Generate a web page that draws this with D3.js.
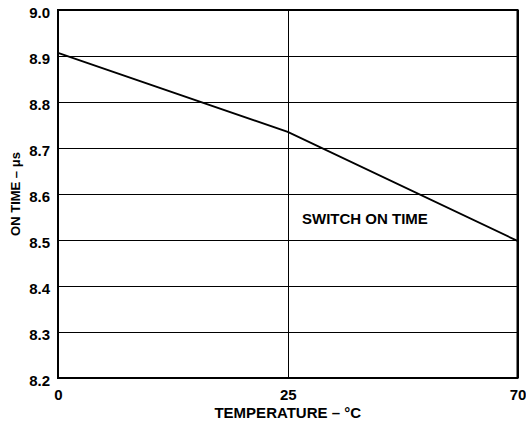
<!DOCTYPE html>
<html>
<head>
<meta charset="utf-8">
<script src="https://cdn.jsdelivr.net/npm/d3@7/dist/d3.min.js"></script>
<style>
  body { margin: 0; background: #fff; }
  text { font-family: "Liberation Sans", Arial, sans-serif; font-weight: bold; fill: #000; }
</style>
</head>
<body>
<script>
var width = 526;
var height = 427;
var margin = {top: 10, right: 8.5, bottom: 49, left: 58};

// data
var temps = [0, 25, 70];
var onTime = [8.907, 8.735, 8.498];
var yTicks = [8.2, 8.3, 8.4, 8.5, 8.6, 8.7, 8.8, 8.9, 9.0];

var w = width - margin.left - margin.right;
var h = height - margin.top - margin.bottom;

var svg = d3.select("body")
  .append("svg")
  .attr("width", width)
  .attr("height", height);

var g = svg.append("g")
  .attr("transform", "translate(" + margin.left + "," + margin.top + ")");

// x axis is not linear in the original: ticks are evenly spaced
var x = d3.scalePoint().domain(temps).range([0, w]).padding(0);
var y = d3.scaleLinear().domain([8.2, 9.0]).range([h, 0]);

var yAxis = g.append("g")
  .call(d3.axisLeft(y).tickValues(yTicks).tickSize(-w).tickPadding(8).tickFormat(d3.format(".1f")));
yAxis.select(".domain").remove();
yAxis.selectAll("line").attr("stroke", "#000").attr("stroke-width", 1).attr("shape-rendering", "crispEdges");
yAxis.selectAll("text").attr("font-size", 15).attr("dy", "0.5em");

var xAxis = g.append("g")
  .attr("transform", "translate(0," + h + ")")
  .call(d3.axisBottom(x).tickSize(-h).tickPadding(11));
xAxis.select(".domain").remove();
xAxis.selectAll("line").attr("stroke", "#000").attr("stroke-width", 1).attr("shape-rendering", "crispEdges");
xAxis.selectAll("text").attr("font-size", 15);

// frame
g.append("rect")
  .attr("x", 0).attr("y", 0)
  .attr("width", w).attr("height", h)
  .attr("fill", "none")
  .attr("stroke", "#000")
  .attr("stroke-width", 2);

var line = d3.line()
  .x(function(d, i) { return x(temps[i]); })
  .y(function(d) { return y(d); });

g.append("path")
  .datum(onTime)
  .attr("d", line)
  .attr("fill", "none")
  .attr("stroke", "#000")
  .attr("stroke-width", 1.8);

g.append("text")
  .attr("x", 244)
  .attr("y", 214)
  .attr("font-size", 15)
  .text("SWITCH ON TIME");

svg.append("text")
  .attr("x", margin.left + w / 2)
  .attr("y", 418)
  .attr("text-anchor", "middle")
  .attr("font-size", 15)
  .text("TEMPERATURE – °C");

svg.append("text")
  .attr("transform", "translate(20," + (margin.top + h / 2) + ") rotate(-90)")
  .attr("text-anchor", "middle")
  .attr("font-size", 13)
  .text("ON TIME – μs");
</script>
</body>
</html>
